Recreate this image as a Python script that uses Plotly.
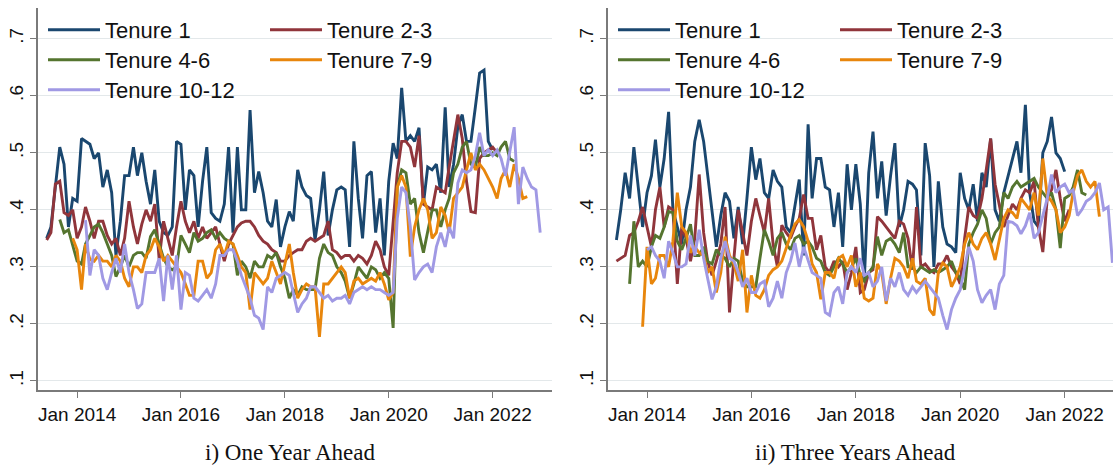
import pandas as pd
import plotly.graph_objects as go

series_names = ["Tenure 1", "Tenure 2-3", "Tenure 4-6", "Tenure 7-9", "Tenure 10-12"]
series_colors = ["#1a476f", "#90353b", "#55752f", "#e8860c", "#a099e4"]

# ---- i) One Year Ahead: first month of each series, then monthly shares ----
one_year_start = ["2013-06-01", "2013-06-01", "2013-09-01", "2013-12-01", "2014-03-01"]

one_year_t1 = [
    .35, .37, .44, .51, .48, .37, .42, .415, .525, .52,
    .515, .49, .50, .44, .47, .43, .32, .38, .46, .46,
    .51, .46, .50, .45, .41, .47, .38, .36, .355, .37,
    .52, .515, .40, .47, .46, .37, .45, .51, .395, .385,
    .38, .41, .51, .36, .51, .40, .40, .575, .43, .467,
    .43, .38, .37, .418, .335, .37, .397, .38, .47, .44,
    .425, .42, .347, .40, .467, .355, .40, .435, .44, .435,
    .335, .52, .42, .35, .46, .467, .36, .42, .32, .45,
    .517, .49, .614, .52, .53, .52, .544, .41, .475, .47,
    .48, .43, .58, .44, .48, .546, .567, .52, .52, .58,
    .64, .645, .52, .505,
]
one_year_t2_3 = [
    .347, .36, .445, .45, .395, .39, .40, .35, .37, .405,
    .38, .35, .38, .38, .355, .34, .35, .32, .35, .415,
    .37, .34, .375, .40, .38, .41, .313, .38, .35, .32,
    .37, .415, .38, .36, .38, .35, .37, .35, .36, .37,
    .34, .31, .34, .355, .37, .377, .38, .38, .37, .355,
    .345, .34, .33, .325, .31, .31, .32, .325, .33, .33,
    .345, .35, .345, .35, .355, .38, .33, .325, .315, .32,
    .32, .31, .32, .315, .305, .32, .345, .33, .30, .285,
    .38, .465, .52, .52, .51, .475, .53, .41, .405, .40,
    .44, .435, .43, .475, .52, .567, .525, .45, .397, .395,
    .49, .50, .505, .51, .50,
]
one_year_t4_6 = [
    .383, .36, .365, .34, .31, .305, .34, .355, .37, .375,
    .36, .34, .32, .283, .30, .32, .30, .32, .325, .325,
    .315, .353, .365, .34, .315, .30, .295, .30, .355, .34,
    .325, .36, .345, .35, .36, .365, .35, .36, .35, .345,
    .34, .285, .31, .30, .28, .31, .30, .30, .32, .315,
    .325, .30, .28, .245, .26, .25, .265, .26, .26, .26,
    .315, .34, .325, .32, .30, .29, .275, .245, .27, .30,
    .29, .28, .30, .295, .28, .29, .28, .193, .44, .47,
    .465, .41, .42, .36, .325, .36, .40, .40, .37, .40,
    .42, .465, .48, .51, .52, .48, .475, .51, .495, .495,
    .50, .495, .51, .52, .49, .485,
]
one_year_t7_9 = [
    .35, .33, .26, .34, .313, .31, .32, .31, .31, .30,
    .32, .31, .28, .265, .30, .30, .29, .32, .33, .35,
    .335, .31, .32, .31, .30, .29, .27, .25, .25, .31,
    .31, .28, .29, .33, .34, .32, .345, .34, .32, .30,
    .29, .225, .29, .28, .27, .28, .31, .29, .27, .305,
    .34, .29, .245, .26, .27, .265, .265, .177, .27, .27,
    .28, .29, .30, .29, .245, .275, .28, .27, .275, .28,
    .275, .29, .27, .242, .255, .44, .46, .44, .318, .37,
    .40, .42, .40, .35, .36, .405, .39, .36, .42, .43,
    .44, .47, .50, .47, .48, .47, .455, .44, .42, .455,
    .47, .44, .48, .455, .42, .423,
]
one_year_t10_12 = [
    .382, .285, .33, .32, .28, .26, .29, .315, .29, .34,
    .29, .26, .227, .235, .29, .29, .29, .315, .24, .32,
    .26, .32, .225, .29, .285, .245, .24, .25, .26, .245,
    .27, .32, .32, .33, .33, .31, .285, .265, .245, .215,
    .21, .19, .265, .255, .28, .285, .29, .285, .255, .22,
    .235, .245, .265, .265, .255, .245, .25, .24, .245, .245,
    .25, .235, .255, .26, .265, .26, .265, .26, .26, .255,
    .25, .255, .385, .44, .43, .37, .277, .29, .30, .305,
    .29, .335, .36, .335, .37, .35, .447, .47, .465, .47,
    .495, .535, .495, .505, .495, .505, .49, .46, .505, .545,
    .41, .475, .455, .44, .435, .36,
]

# ---- ii) Three Years Ahead ----
three_year_start = ["2013-06-01", "2013-06-01", "2013-09-01", "2013-12-01", "2014-01-01"]

three_year_t1 = [
    .347, .40, .465, .42, .51, .44, .37, .43, .46, .523,
    .44, .49, .572, .40, .37, .34, .40, .44, .52, .558,
    .52, .46, .40, .335, .39, .43, .415, .35, .405, .34,
    .42, .51, .453, .49, .43, .42, .47, .45, .44, .37,
    .36, .41, .453, .32, .55, .42, .49, .49, .44, .435,
    .37, .43, .335, .48, .40, .48, .41, .275, .465, .537,
    .42, .485, .39, .46, .517, .37, .40, .45, .445, .435,
    .32, .517, .46, .30, .45, .37, .34, .335, .325, .465,
    .42, .40, .445, .38, .465, .44, .525, .40, .38, .43,
    .46, .49, .52, .465, .584, .43, .38, .37, .50, .52,
    .563, .50, .49, .467,
]
three_year_t2_3 = [
    .31, .315, .32, .355, .36, .38, .405, .37, .335, .40,
    .44, .37, .405, .40, .27, .37, .35, .31, .35, .462,
    .36, .31, .285, .31, .34, .405, .22, .315, .40, .36,
    .32, .38, .42, .39, .36, .42, .34, .30, .373, .36,
    .35, .37, .385, .427, .385, .385, .33, .355, .30, .29,
    .31, .30, .31, .26, .29, .335, .255, .26, .29, .295,
    .388, .38, .37, .36, .35, .38, .375, .35, .295, .405,
    .30, .305, .295, .29, .305, .305, .32, .30, .29, .27,
    .35, .405, .39, .385, .42, .47, .525, .445, .405, .37,
    .39, .41, .40, .42, .435, .43, .45, .37, .326, .42,
    .435, .47, .42, .38, .40,
]
three_year_t4_6 = [
    .27, .38, .30, .31, .30, .335, .355, .35, .37, .397,
    .395, .345, .33, .35, .375, .32, .32, .335, .31, .305,
    .33, .32, .315, .30, .315, .31, .275, .265, .265, .265,
    .315, .365, .345, .32, .35, .36, .34, .33, .35, .355,
    .34, .345, .335, .315, .31, .29, .285, .30, .315, .305,
    .29, .30, .315, .285, .275, .29, .30, .353, .32, .345,
    .35, .34, .325, .36, .30, .30, .29, .30, .295, .29,
    .295, .29, .295, .30, .31, .29, .28, .26, .34, .36,
    .375, .40, .385, .34, .36, .37, .43, .42, .44, .45,
    .44, .445, .45, .455, .44, .43, .42, .43, .40, .333,
    .42, .425, .44, .47, .43, .426,
]
three_year_t7_9 = [
    .195, .335, .27, .28, .32, .32, .30, .345, .43, .37,
    .36, .325, .335, .325, .32, .29, .30, .255, .29, .353,
    .32, .305, .275, .33, .22, .285, .25, .245, .26, .285,
    .295, .30, .31, .335, .355, .375, .383, .37, .345, .305,
    .29, .243, .29, .29, .28, .315, .32, .30, .32, .265,
    .29, .245, .24, .245, .305, .29, .235, .28, .315, .31,
    .30, .28, .315, .275, .27, .28, .225, .215, .29, .307,
    .30, .265, .28, .30, .34, .36, .34, .33, .35, .36,
    .34, .312, .35, .385, .40, .395, .385, .42, .41, .40,
    .43, .39, .49, .425, .415, .40, .36, .37, .39, .43,
    .46, .47, .45, .44, .45, .388,
]
three_year_t10_12 = [
    .33, .335, .32, .31, .28, .345, .325, .30, .30, .305,
    .355, .32, .365, .315, .28, .243, .265, .315, .345, .315,
    .31, .29, .265, .28, .255, .255, .27, .275, .23, .245,
    .275, .245, .29, .31, .342, .30, .335, .31, .29, .285,
    .28, .22, .215, .255, .265, .235, .29, .30, .29, .315,
    .285, .29, .265, .275, .30, .24, .28, .265, .29, .26,
    .25, .265, .255, .265, .275, .265, .255, .245, .215, .19,
    .225, .245, .26, .30, .335, .31, .26, .237, .25, .26,
    .225, .27, .285, .38, .378, .372, .358, .372, .395, .35,
    .36, .39, .42, .462, .43, .44, .445, .43, .435, .39,
    .40, .415, .42, .43, .447, .40, .405, .307,
]

# Axis ticks and panel captions
y_tick_values = [0.1, 0.2, 0.3, 0.4, 0.5, 0.6, 0.7]
y_tick_labels = [".1", ".2", ".3", ".4", ".5", ".6", ".7"]
x_tick_values = ["2014-01-01", "2016-01-01", "2018-01-01", "2020-01-01", "2022-01-01"]
x_tick_labels = ["Jan 2014", "Jan 2016", "Jan 2018", "Jan 2020", "Jan 2022"]
panel_titles = ["i) One Year Ahead", "ii) Three Years Ahead"]

panels = [
    (one_year_start, [one_year_t1, one_year_t2_3, one_year_t4_6, one_year_t7_9, one_year_t10_12]),
    (three_year_start, [three_year_t1, three_year_t2_3, three_year_t4_6, three_year_t7_9, three_year_t10_12]),
]

W, H = 1113, 472
fig = go.Figure()

# Each legend entry gets its own legend box so the two-column block can be laid out freely
legend_col_x = [[48, 270], [618, 840]]   # px, left edge of line sample, per panel
legend_row_y = [30, 60, 90]               # px, row centres
entry_cell = [(0, 0), (0, 1), (1, 0), (1, 1), (2, 0)]  # (row, column) for each series

legend_layouts = {}
n_leg = 0
for p, (starts, values) in enumerate(panels):
    xa = "x" if p == 0 else "x2"
    ya = "y" if p == 0 else "y2"
    for i, (name, vals) in enumerate(zip(series_names, values)):
        n_leg += 1
        leg_id = "legend" if n_leg == 1 else f"legend{n_leg}"
        dates = pd.date_range(starts[i], periods=len(vals), freq="MS")
        fig.add_trace(go.Scatter(
            x=dates, y=vals, mode="lines", name=name,
            line=dict(color=series_colors[i], width=2.9),
            xaxis=xa, yaxis=ya, legend=leg_id, hoverinfo="skip",
        ))
        row, col = entry_cell[i]
        legend_layouts[leg_id] = dict(
            x=(legend_col_x[p][col] - 5) / W,
            y=1 - legend_row_y[row] / H,
            xanchor="left", yanchor="middle",
            orientation="v", itemwidth=52,
            bgcolor="rgba(0,0,0,0)", borderwidth=0,
            font=dict(family="Liberation Sans, Arial, sans-serif", size=22, color="#111111"),
            tracegroupgap=0,
        )

axis_color = "#7a7a7a"
tick_font = dict(family="Liberation Sans, Arial, sans-serif", size=19, color="#111111")
y_domain = [(H - 390) / H, (H - 8) / H]

common_x = dict(
    type="date", tickmode="array", tickvals=x_tick_values, ticktext=x_tick_labels,
    ticks="outside", ticklen=6, tickwidth=1.3, tickcolor=axis_color,
    showline=True, linecolor=axis_color, linewidth=1.5,
    showgrid=False, zeroline=False, tickfont=tick_font,
)
common_y = dict(
    range=[0.084, 0.754], domain=y_domain,
    tickmode="array", tickvals=y_tick_values, ticktext=y_tick_labels, tickangle=-90,
    ticks="outside", ticklen=6, tickwidth=1.3, tickcolor=axis_color,
    showline=True, linecolor=axis_color, linewidth=1.5,
    showgrid=True, gridcolor="#e3e8ea", gridwidth=1,
    zeroline=False, tickfont=tick_font,
)

fig.update_layout(
    width=W, height=H,
    margin=dict(l=0, r=0, t=0, b=0),
    paper_bgcolor="white", plot_bgcolor="white",
    showlegend=True,
    xaxis=dict(common_x, domain=[38 / W, 552 / W], range=["2013-04-01", "2023-02-22"], anchor="y"),
    yaxis=dict(common_y, anchor="x"),
    xaxis2=dict(common_x, domain=[608 / W, 1.0], range=["2013-04-03", "2022-12-05"], anchor="y2"),
    yaxis2=dict(common_y, anchor="x2"),
    **legend_layouts,
)

title_font = dict(family="Liberation Serif, Times New Roman, serif", size=23, color="#111111")
for cx, text in zip([290, 855], panel_titles):
    fig.add_annotation(
        text=text, xref="paper", yref="paper",
        x=cx / W, y=1 - 452 / H, xanchor="center", yanchor="middle",
        showarrow=False, font=title_font,
    )

fig.write_html("out.html")
